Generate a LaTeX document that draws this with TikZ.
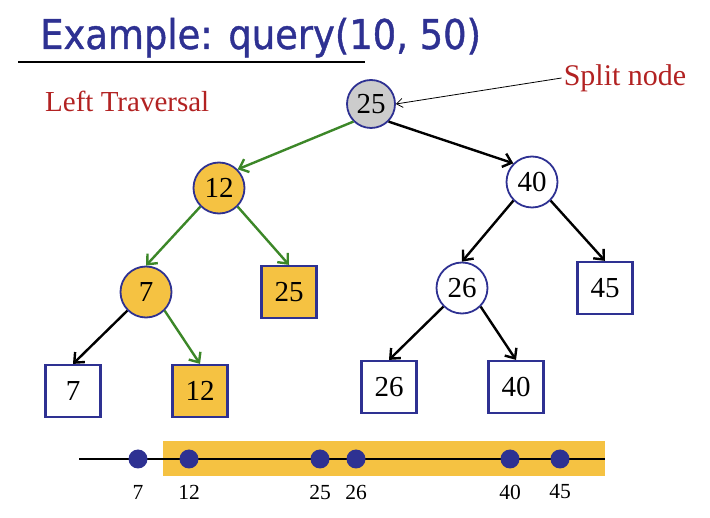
\documentclass[tikz,border=0pt]{standalone}
\usepackage{fontspec}
\setmainfont{Liberation Serif}
\newfontfamily\titlefont[FakeStretch=0.9,FakeBold=1]{DejaVu Sans}
\usetikzlibrary{arrows.meta}
\definecolor{navy}{RGB}{46,49,146}
\definecolor{gold}{RGB}{245,194,66}
\definecolor{grn}{RGB}{60,135,40}
\definecolor{redt}{RGB}{178,34,34}
\definecolor{splitgray}{RGB}{204,204,204}
\begin{document}
\begin{tikzpicture}[x=1pt,y=-1pt,
  inode/.style={circle, draw=navy, line width=1.8pt, minimum size=51pt, inner sep=0pt, fill=white, font=\fontsize{29}{29}\selectfont},
  leaf/.style={rectangle, draw=navy, line width=2.2pt, minimum width=55pt, minimum height=52pt, inner sep=0pt, fill=white, font=\fontsize{29}{29}\selectfont},
  hit/.style={fill=gold},
  edge/.style={line width=2.4pt, -{Straight Barb[length=8pt,width=14pt,line width=2.4pt]}},
  gedge/.style={edge, draw=grn},
  redlabel/.style={text=redt, inner sep=0pt, font=\fontsize{29}{29}\selectfont},
  dot/.style={circle, fill=navy, minimum size=19pt, inner sep=0pt},
  numlabel/.style={font=\fontsize{21.5}{21.5}\selectfont, inner sep=0pt}
]
\useasboundingbox (0,0) rectangle (710,518);

% title
\node[anchor=base west, inner sep=0pt, text=navy, font=\titlefont\fontsize{41}{41}\selectfont] (title) at (40,49) {Example: query(10, 50)};
\coordinate (u1) at (18,62);
\coordinate (u2) at (365,62);
\draw[line width=1.4pt] (u1) -- (u2);

\node[redlabel, anchor=base west] (lt) at (45,112) {Left Traversal};

% tree
\node[inode, fill=splitgray, minimum size=48pt] (r) at (371,104) {25};
\node[inode, hit] (n12) at (219,188) {12};
\node[inode] (n40) at (532,182) {40};
\node[inode, hit] (n7) at (146,292) {7};
\node[inode] (n26) at (462,288) {26};
\node[leaf, hit] (l25) at (289,292) {25};
\node[leaf] (l7) at (73,391) {7};
\node[leaf, hit] (l12) at (200,391) {12};
\node[leaf] (l45) at (605,288) {45};
\node[leaf] (l26) at (389,387) {26};
\node[leaf] (l40) at (516,387) {40};

\draw[gedge] (r.south west) -- (n12.north east);
\draw[edge] (r.south east) -- (n40.north west);
\draw[gedge] (n12.south west) -- (n7.north);
\draw[gedge] (n12.south east) -- (l25.north);
\draw[edge] (n7.south west) -- (l7.north);
\draw[gedge] (n7.south east) -- (l12.north);
\draw[edge] (n40.south west) -- (n26.north);
\draw[edge] (n40.south east) -- (l45.north);
\draw[edge] (n26.south west) -- (l26.north);
\draw[edge] (n26.south east) -- (l40.north);

% split node label
\node[redlabel, font=\fontsize{30}{30}\selectfont, inner sep=2pt] (split) at (625,78) {Split node};
\draw[line width=0.8pt, -{Straight Barb[length=6pt,width=9pt,line width=0.8pt]}] (split.west) -- (r.east);

% number line
\fill[gold] (163,441) rectangle (605,476);
\coordinate (nl1) at (79,459);
\coordinate (nl2) at (605,459);
\draw[line width=2.4pt] (nl1) -- (nl2);
\foreach \x/\l in {138/7, 189/12, 320/25, 356/26, 510/40, 560/45} {
  \node[dot] (d\l) at (\x,459) {};
  \node[numlabel] (t\l) at (\x,492) {\l};
}
\end{tikzpicture}
\end{document}
